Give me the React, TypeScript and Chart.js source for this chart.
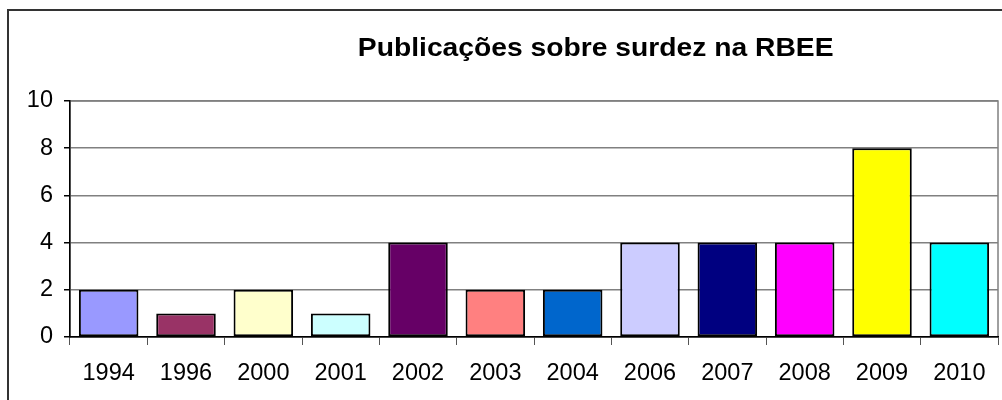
import React, { useEffect, useRef } from "react";
import { Chart, registerables } from "chart.js";

Chart.register(...registerables);

const categories = ["1994", "1996", "2000", "2001", "2002", "2003", "2004", "2006", "2007", "2008", "2009", "2010"];
const values = [2, 1, 2, 1, 4, 2, 2, 4, 4, 4, 8, 4];
const barColors = ["#9999FF", "#993366", "#FFFFCC", "#CCFFFF", "#660066", "#FF8080", "#0066CC", "#CCCCFF", "#000080", "#FF00FF", "#FFFF00", "#00FFFF"];
const titleText = "Publicações sobre surdez na RBEE";
const yMin = 0;
const yMax = 10;
const yStep = 2;

const FONT = "'Liberation Sans', Arial, sans-serif";

const framePlugin = {
  id: "frame",
  beforeDraw(chart: any) {
    const { ctx, chartArea } = chart;
    ctx.save();
    ctx.fillStyle = "#ffffff";
    ctx.fillRect(0, 0, chart.width, chart.height);
    ctx.strokeStyle = "#333333";
    ctx.lineWidth = 2;
    ctx.strokeRect(8, 10, chart.width + 20, chart.height + 20);
    ctx.strokeStyle = "#808080";
    ctx.lineWidth = 1.5;
    ctx.strokeRect(chartArea.left, chartArea.top, chartArea.right - chartArea.left, chartArea.bottom - chartArea.top);
    ctx.restore();
  },
  afterDraw(chart: any) {
    const { ctx } = chart;
    ctx.save();
    ctx.fillStyle = "#000000";
    ctx.font = `bold 25px ${FONT}`;
    ctx.textAlign = "center";
    ctx.textBaseline = "alphabetic";
    const cx = chart.width * 0.5945;
    ctx.translate(cx, 56);
    ctx.scale(1.13, 1);
    ctx.fillText(titleText, 0, 0);
    ctx.restore();
  },
};

export default function App() {
  const ref = useRef<HTMLCanvasElement>(null);
  useEffect(() => {
    if (!ref.current) return;
    const chart = new Chart(ref.current, {
      type: "bar",
      data: {
        labels: categories,
        datasets: [
          {
            data: values,
            backgroundColor: barColors,
            borderColor: "#000000",
            borderWidth: 2,
            borderSkipped: false,
            categoryPercentage: 1,
            barPercentage: 0.77,
          },
        ],
      },
      plugins: [framePlugin],
      options: {
        animation: false,
        responsive: false,
        maintainAspectRatio: false,
        layout: { padding: { left: 8, top: 101, right: 4, bottom: 0 } },
        plugins: { legend: { display: false }, title: { display: false }, tooltip: { enabled: false } },
        scales: {
          x: {
            offset: true,
            grid: { display: true, drawOnChartArea: false, offset: true, tickLength: 8, color: "#555555", lineWidth: 1 },
            border: { display: true, color: "#000000", width: 1.5 },
            ticks: { color: "#000000", font: { family: FONT, size: 23.5 }, padding: 14, maxRotation: 0 },
            afterFit(scale: any) {
              scale.height = 63;
            },
          },
          y: {
            min: yMin,
            max: yMax,
            grid: { color: "#808080", lineWidth: 1.5, tickLength: 6, tickColor: "#000000" },
            border: { display: true, color: "#000000", width: 1.5 },
            ticks: { stepSize: yStep, color: "#000000", font: { family: FONT, size: 23.5 }, padding: 11 },
            afterFit(scale: any) {
              scale.width = 62;
            },
          },
        },
      },
    });
    return () => chart.destroy();
  }, []);
  return (
    <div style={{ position: "absolute", left: 0, top: 0, width: 1002, height: 400 }}>
      <canvas ref={ref} width={1002} height={400} style={{ width: 1002, height: 400, display: "block" }} />
    </div>
  );
}
